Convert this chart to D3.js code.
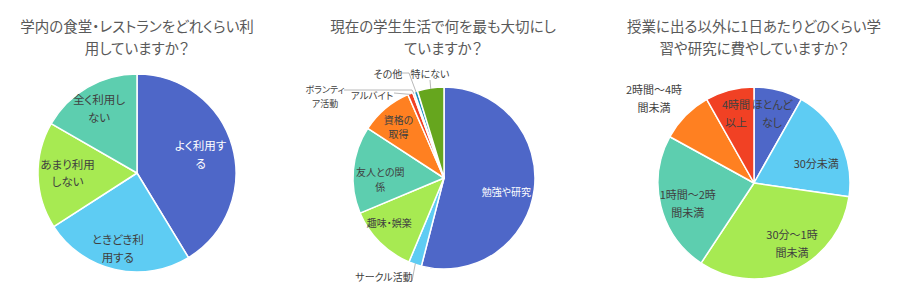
<!DOCTYPE html>
<html>
<head>
<meta charset="utf-8">
<script src="https://cdn.jsdelivr.net/npm/d3@7"></script>
<style>
  html, body { margin: 0; padding: 0; background: #ffffff; }
  svg { display: block; font-family: "Noto Sans CJK JP", "Noto Sans", sans-serif; font-feature-settings: "palt"; }
</style>
</head>
<body>
<svg id="chart" width="913" height="306"></svg>
<script>
// ---------- DATA ----------
// Chart 1
const q1Title = ["学内の食堂・レストランをどれくらい利", "用していますか？"];
const q1Categories = ["よく利用する", "ときどき利用する", "あまり利用しない", "全く利用しない"];
const q1Values = [41.3, 24.6, 17.4, 16.7];
const q1LabelLines = [["よく利用す", "る"], ["ときどき利", "用する"], ["あまり利用", "しない"], ["全く利用し", "ない"]];

// Chart 2
const q2Title = ["現在の学生生活で何を最も大切にし", "ていますか？"];
const q2Categories = ["勉強や研究", "サークル活動", "趣味・娯楽", "友人との関係", "資格の取得", "アルバイト", "ボランティア活動", "その他", "特にない"];
const q2Values = [54.0, 2.3, 12.4, 15.5, 9.3, 0.9, 0.3, 0.6, 4.7];
const q2LabelLines = [["勉強や研究"], ["サークル活動"], ["趣味・娯楽"], ["友人との関", "係"], ["資格の", "取得"], ["アルバイト"], ["ボランティ", "ア活動"], ["その他"], ["特にない"]];

// Chart 3
const q3Title = ["授業に出る以外に1日あたりどのくらい学", "習や研究に費やしていますか？"];
const q3Categories = ["ほとんどなし", "30分未満", "30分～1時間未満", "1時間～2時間未満", "2時間～4時間未満", "4時間以上"];
const q3Values = [8.2, 19.1, 32.0, 23.7, 8.8, 8.2];
const q3LabelLines = [["ほとんど", "なし"], ["30分未満"], ["30分～1時", "間未満"], ["1時間～2時", "間未満"], ["2時間～4時", "間未満"], ["4時間", "以上"]];

// ---------- STYLE / LAYOUT ----------
const palette = ["#4E67C8", "#5ECCF3", "#A7EA52", "#5DCEAF", "#FF8021", "#F14124", "#2E3D7A", "#1B8DBF", "#66A61E"];

// inside labels: [radius fraction, angle shift deg]; outside labels: {x, y, leader:[[x,y],...]} (leader ends at arc)
const charts = [
  {
    cx: 137, cy: 173, r: 99, titleX: 137, title: q1Title, values: q1Values, lines: q1LabelLines,
    fontSize: 11.5, lineH: 17.5,
    labelColors: ["#ffffff", "#404040", "#404040", "#404040"],
    layout: [{rf: 0.67, da: -0.8}, {rf: 0.78, da: 1.4}, {rf: 0.70, da: 1.8}, {rf: 0.76, da: -0.3}]
  },
  {
    cx: 444, cy: 178, r: 91, titleX: 443, title: q2Title, values: q2Values, lines: q2LabelLines,
    fontSize: 10, lineH: 14.5,
    labelColors: ["#ffffff", "#404040", "#404040", "#404040", "#404040", "#404040", "#404040", "#404040", "#404040"],
    layout: [
      {rf: 0.70, da: 4.5},
      {x: 384, y: 276, leader: [[412, 281]]},
      {rf: 0.77, da: 6.3},
      {rf: 0.70, da: -5.7},
      {rf: 0.76, da: -0.9},
      {x: 372, y: 94.5, fs: 9.5, leader: [[394, 93]]},
      {x: 325, y: 96, fs: 9, lineH: 13.5, leader: [[344, 90], [412, 90]]},
      {x: 388, y: 72.7, leader: [[401, 73], [409, 73]]},
      {x: 430, y: 72.7, leader: [[430, 80]]}
    ]
  },
  {
    cx: 754, cy: 183, r: 96, titleX: 754, title: q3Title, values: q3Values, lines: q3LabelLines,
    fontSize: 11, lineH: 18,
    labelColors: ["#404040", "#404040", "#404040", "#404040", "#404040", "#404040"],
    layout: [
      {rf: 0.75, da: -0.3},
      {rf: 0.68, da: 8.6},
      {rf: 0.74, da: -8.2},
      {rf: 0.72, da: -2.7},
      {x: 654, y: 98.3},
      {rf: 0.75, da: 0.3}
    ]
  }
];

const svg = d3.select("#chart");
const rad = Math.PI / 180;

charts.forEach(c => {
  const g = svg.append("g");

  // title
  g.append("g").selectAll("text").data(c.title).join("text")
    .attr("x", c.titleX)
    .attr("y", (d, i) => 25 + i * 22)
    .attr("text-anchor", "middle")
    .attr("dominant-baseline", "central")
    .attr("fill", "#595959")
    .attr("font-size", 14.5)
    .text(d => d);

  const pie = d3.pie().sort(null).value(d => d).startAngle(0).endAngle(2 * Math.PI);
  const arcs = pie(c.values);
  const arc = d3.arc().innerRadius(0).outerRadius(c.r);

  const pg = g.append("g").attr("transform", `translate(${c.cx},${c.cy})`);
  pg.selectAll("path").data(arcs).join("path")
    .attr("d", arc)
    .attr("fill", (d, i) => palette[i % palette.length])
    .attr("stroke", "#ffffff")
    .attr("stroke-width", 1.5)
    .attr("stroke-linejoin", "round");

  // labels
  arcs.forEach((a, i) => {
    const L = c.layout[i];
    const mid = (a.startAngle + a.endAngle) / 2;
    let x, y;
    if (L.rf !== undefined) {
      const ang = mid + L.da * rad;
      x = c.cx + c.r * L.rf * Math.sin(ang);
      y = c.cy - c.r * L.rf * Math.cos(ang);
    } else {
      x = L.x; y = L.y;
      if (L.leader) {
        const edgeR = c.r - 1;
        const ex = c.cx + edgeR * Math.sin(mid);
        const ey = c.cy - edgeR * Math.cos(mid);
        const pts = L.leader.concat([[ex, ey]]);
        g.append("path")
          .attr("d", d3.line()(pts))
          .attr("fill", "none")
          .attr("stroke", "#a6a6a6")
          .attr("stroke-width", 0.8);
      }
    }
    const lines = c.lines[i];
    const lh = L.lineH || c.lineH;
    const t = g.append("text")
      .attr("text-anchor", "middle")
      .attr("dominant-baseline", "central")
      .attr("font-size", L.fs || c.fontSize)
      .attr("fill", c.labelColors[i]);
    lines.forEach((ln, k) => {
      t.append("tspan")
        .attr("x", x)
        .attr("y", y - (lines.length - 1) * lh / 2 + k * lh)
        .text(ln);
    });
  });
});
</script>
</body>
</html>
